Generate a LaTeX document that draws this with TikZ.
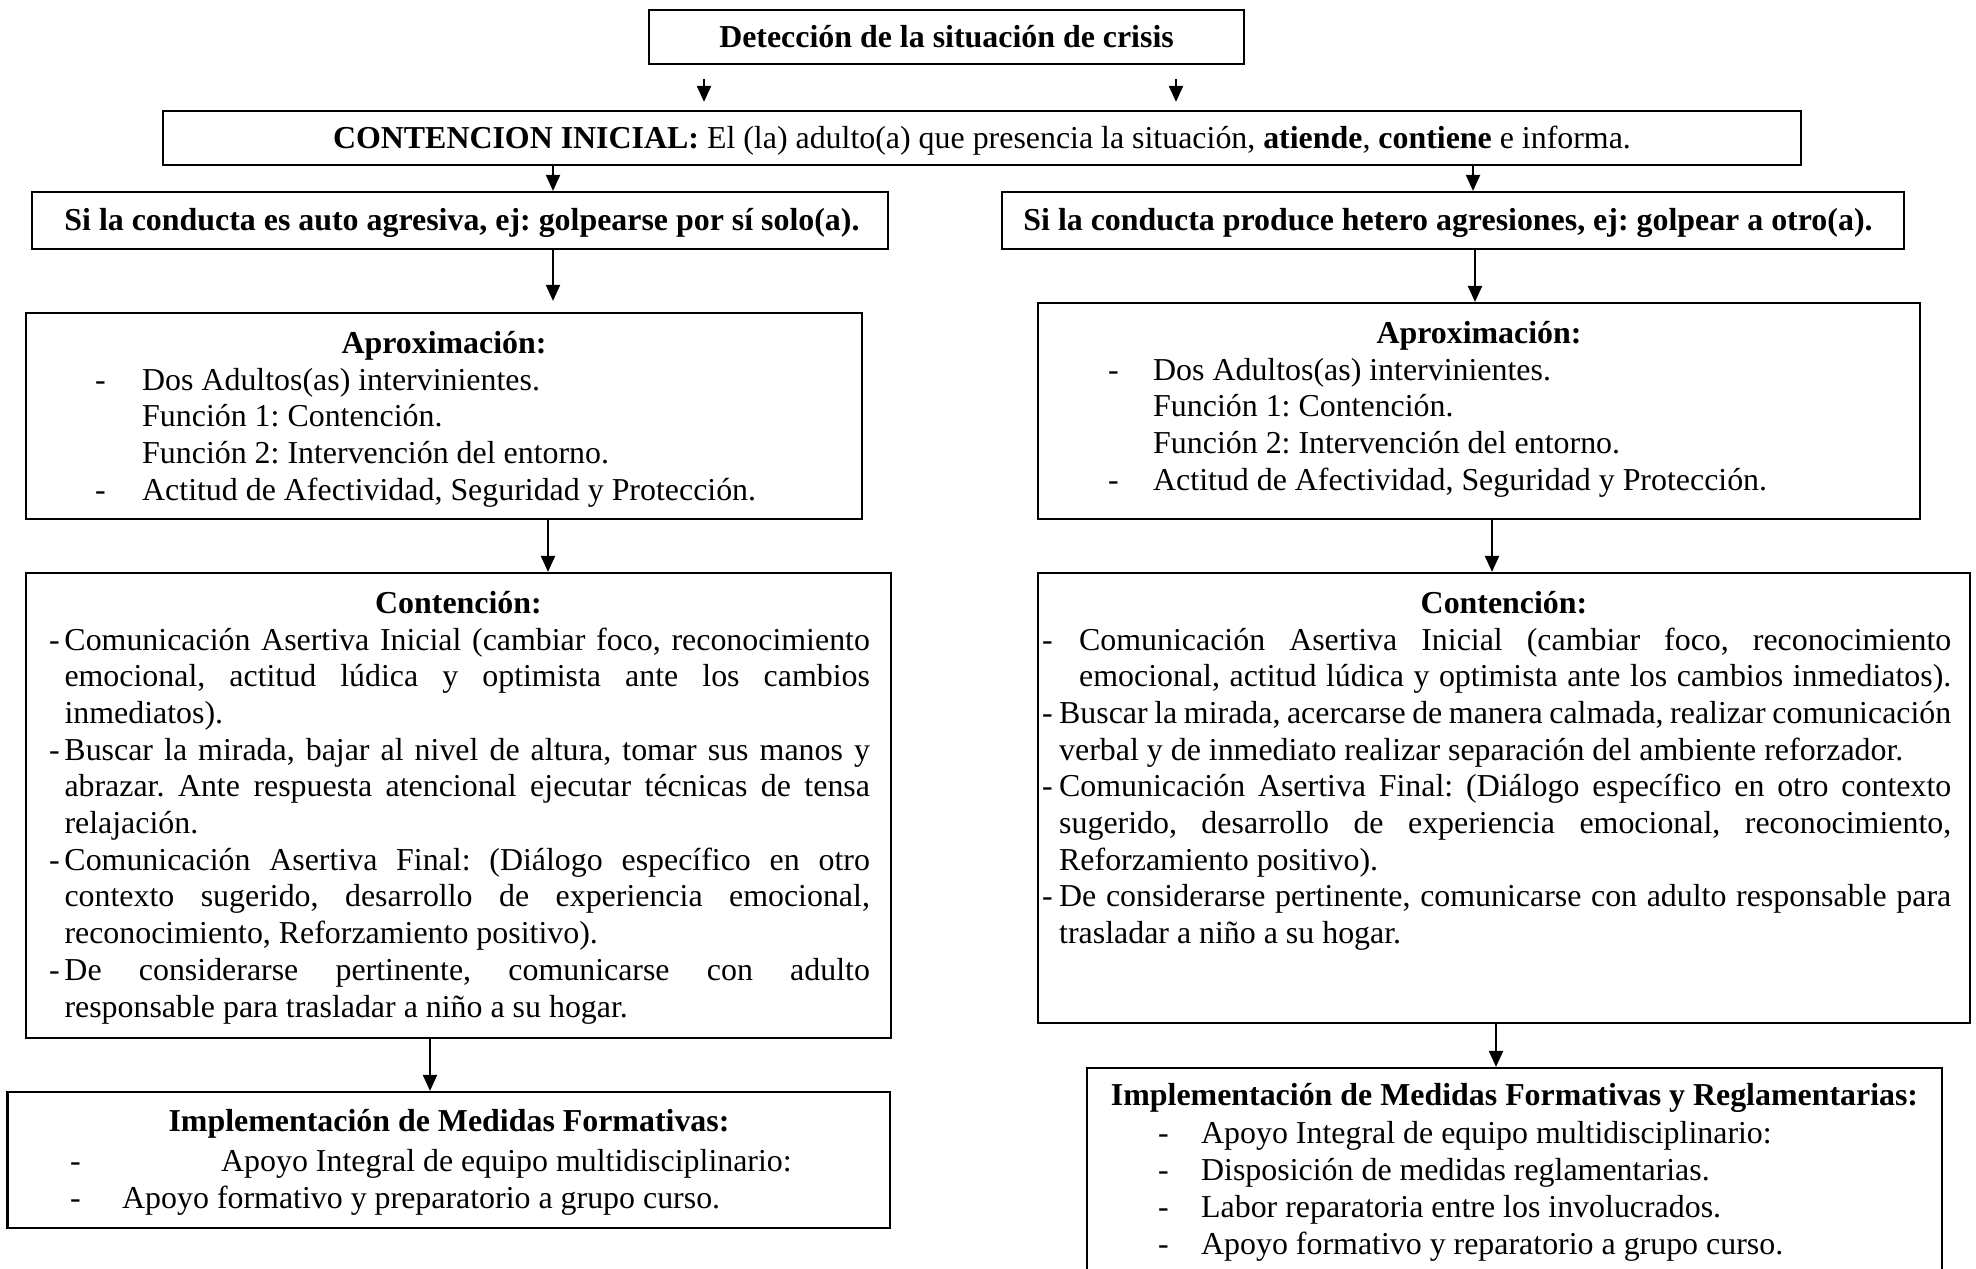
\documentclass[tikz,border=0pt]{standalone}
\usepackage{fontspec}
\setmainfont{Liberation Serif}
\usetikzlibrary{arrows.meta}
\frenchspacing
\newcommand{\jst}[2]{\makebox[#1pt][s]{#2}}
\newcommand{\dsh}[1]{\makebox[#1pt][l]{-}}
\begin{document}
\begin{tikzpicture}[x=1pt,y=-1pt,
  every node/.style={font=\fontsize{31.9pt}{36.7pt}\selectfont},
  box/.style={draw, line width=2.2pt, inner sep=0pt},
  ln/.style={anchor=base west, inner sep=0pt},
  ttl/.style={anchor=base, inner sep=0pt, font=\fontsize{31.9pt}{36.7pt}\selectfont\bfseries},
  arr/.style={line width=2pt, -{Triangle[length=16pt,width=14pt]}}]
\useasboundingbox (0,0) rectangle (1976,1269);
\clip (0,0) rectangle (1976,1269);

% boxes
\node[box, minimum width=595pt, minimum height=54pt] (det) at (946.5,37) {};
\node[box, minimum width=1638pt, minimum height=54pt] (ci) at (982,138) {};
\node[box, minimum width=856pt, minimum height=57pt] (siL) at (460,220.5) {};
\node[box, minimum width=902pt, minimum height=57pt] (siR) at (1453,220.5) {};
\node[box, minimum width=836pt, minimum height=206pt] (apL) at (444,416) {};
\node[box, minimum width=882pt, minimum height=216pt] (apR) at (1479,411) {};
\node[box, minimum width=865pt, minimum height=465pt] (coL) at (458.5,805.5) {};
\node[box, minimum width=932pt, minimum height=450pt] (coR) at (1504,798) {};
\node[box, minimum width=882.5pt, minimum height=136pt] (imL) at (448.75,1160) {};
\node[box, minimum width=855pt, minimum height=222pt] (imR) at (1514.5,1179) {};

% single-line texts
\node[ttl] (tdet) at (946.5,47) {Detección de la situación de crisis};
\node[anchor=base, inner sep=0pt] (tci) at (982,148) {\textbf{CONTENCION INICIAL:} El (la) adulto(a) que presencia la situación, \textbf{atiende}, \textbf{contiene} e informa.};
\node[ttl] (tsiL) at (462,230.5) {Si la conducta es auto agresiva, ej: golpearse por sí solo(a).};
\node[ttl] (tsiR) at (1448,230.5) {Si la conducta produce hetero agresiones, ej: golpear a otro(a).};

% Aproximacion left
\node[ttl] (apLt) at (444,353) {Aproximación:};
\node[ln] (apL1) at (95,390) {\dsh{47}Dos Adultos(as) intervinientes.};
\node[ln] (apL2) at (142,426.7) {Función 1: Contención.};
\node[ln] (apL3) at (142,463.4) {Función 2: Intervención del entorno.};
\node[ln] (apL4) at (95,500.1) {\dsh{47}Actitud de Afectividad, Seguridad y Protección.};

% Aproximacion right
\node[ttl] (apRt) at (1479,343) {Aproximación:};
\node[ln] (apR1) at (1108,380) {\dsh{45}Dos Adultos(as) intervinientes.};
\node[ln] (apR2) at (1153,416.7) {Función 1: Contención.};
\node[ln] (apR3) at (1153,453.4) {Función 2: Intervención del entorno.};
\node[ln] (apR4) at (1108,490.1) {\dsh{45}Actitud de Afectividad, Seguridad y Protección.};

% Contencion left
\node[ttl] (coLt) at (458.5,613.3) {Contención:};
\node[ln] (coL1) at (49,650) {\dsh{15.3}\jst{805.4}{Comunicación Asertiva Inicial (cambiar foco, reconocimiento}};
\node[ln] (coL2) at (64.3,686.7) {\jst{805.4}{emocional, actitud lúdica y optimista ante los cambios}};
\node[ln] (coL3) at (64.3,723.4) {inmediatos).};
\node[ln] (coL4) at (49,760.1) {\dsh{15.3}\jst{805.4}{Buscar la mirada, bajar al nivel de altura, tomar sus manos y}};
\node[ln] (coL5) at (64.3,796.8) {\jst{805.4}{abrazar. Ante respuesta atencional ejecutar técnicas de tensa}};
\node[ln] (coL6) at (64.3,833.5) {relajación.};
\node[ln] (coL7) at (49,870.2) {\dsh{15.3}\jst{805.4}{Comunicación Asertiva Final: (Diálogo específico en otro}};
\node[ln] (coL8) at (64.3,906.9) {\jst{805.4}{contexto sugerido, desarrollo de experiencia emocional,}};
\node[ln] (coL9) at (64.3,943.6) {reconocimiento, Reforzamiento positivo).};
\node[ln] (coL10) at (49,980.3) {\dsh{15.3}\jst{805.4}{De considerarse pertinente, comunicarse con adulto}};
\node[ln] (coL11) at (64.3,1017) {responsable para trasladar a niño a su hogar.};

% Contencion right
\node[ttl] (coRt) at (1504,613.3) {Contención:};
\node[ln] (coR1) at (1042,650) {\dsh{37}\jst{872}{Comunicación Asertiva Inicial (cambiar foco, reconocimiento}};
\node[ln] (coR2) at (1079,686.7) {\jst{872}{emocional, actitud lúdica y optimista ante los cambios inmediatos).}};
\node[ln] (coR3) at (1042,723.4) {\dsh{17}\jst{892}{Buscar la mirada, acercarse de manera calmada, realizar comunicación}};
\node[ln] (coR4) at (1059,760.1) {verbal y de inmediato realizar separación del ambiente reforzador.};
\node[ln] (coR5) at (1042,796.8) {\dsh{17}\jst{892}{Comunicación Asertiva Final: (Diálogo específico en otro contexto}};
\node[ln] (coR6) at (1059,833.5) {\jst{892}{sugerido, desarrollo de experiencia emocional, reconocimiento,}};
\node[ln] (coR7) at (1059,870.2) {Reforzamiento positivo).};
\node[ln] (coR8) at (1042,906.9) {\dsh{17}\jst{892}{De considerarse pertinente, comunicarse con adulto responsable para}};
\node[ln] (coR9) at (1059,943.6) {trasladar a niño a su hogar.};

% Implementacion left
\node[ttl] (imLt) at (449,1131) {Implementación de Medidas Formativas:};
\node[ln] (imL1) at (70,1171) {\dsh{151}Apoyo Integral de equipo multidisciplinario:};
\node[ln] (imL2) at (70,1208) {\dsh{52}Apoyo formativo y preparatorio a grupo curso.};

% Implementacion right
\node[ttl] (imRt) at (1514.5,1105) {Implementación de Medidas Formativas y Reglamentarias:};
\node[ln] (imR1) at (1158,1143) {\dsh{43}Apoyo Integral de equipo multidisciplinario:};
\node[ln] (imR2) at (1158,1180) {\dsh{43}Disposición de medidas reglamentarias.};
\node[ln] (imR3) at (1158,1217) {\dsh{43}Labor reparatoria entre los involucrados.};
\node[ln] (imR4) at (1158,1254) {\dsh{43}Apoyo formativo y reparatorio a grupo curso.};

% connector x positions
\coordinate (x1) at (704,0);
\coordinate (x2) at (1176,0);
\coordinate (x3) at (553,0);
\coordinate (x4) at (1473,0);
\coordinate (x6) at (1475,0);
\coordinate (x7) at (548,0);
\coordinate (x8) at (1492,0);
\coordinate (x9) at (430,0);
\coordinate (x10) at (1496,0);

\draw[arr] ([yshift=-14pt]det.south -| x1) -- ([yshift=8pt]ci.north -| x1);
\draw[arr] ([yshift=-14pt]det.south -| x2) -- ([yshift=8pt]ci.north -| x2);
\draw[arr] (ci.south -| x3) -- (siL.north -| x3);
\draw[arr] (ci.south -| x4) -- (siR.north -| x4);
\draw[arr] (siL.south -| x3) -- ([yshift=11pt]apL.north -| x3);
\draw[arr] (siR.south -| x6) -- (apR.north -| x6);
\draw[arr] (apL.south -| x7) -- (coL.north -| x7);
\draw[arr] (apR.south -| x8) -- (coR.north -| x8);
\draw[arr] (coL.south -| x9) -- (imL.north -| x9);
\draw[arr] (coR.south -| x10) -- (imR.north -| x10);
\end{tikzpicture}
\end{document}
